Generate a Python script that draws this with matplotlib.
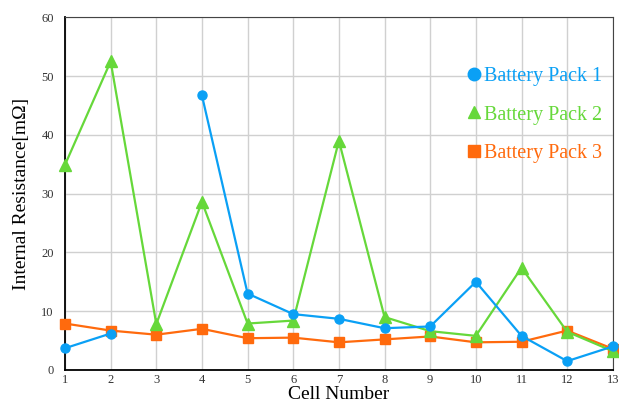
import numpy as np
import matplotlib.pyplot as plt
from matplotlib.lines import Line2D

plt.rcParams['font.family'] = ['Liberation Serif', 'DejaVu Serif']

cells = np.arange(1, 14)
pack1 = [3.7, 6.2, np.nan, 46.7, 13.0, 9.5, 8.7, 7.1, 7.4, 15.0, 5.8, 1.5, 4.0]
pack2 = [34.9, 52.5, 7.8, 28.6, 7.9, 8.4, 39.0, 9.0, 6.6, 5.8, 17.4, 6.5, 3.2]
pack3 = [7.9, 6.7, 6.0, 7.0, 5.4, 5.5, 4.7, 5.2, 5.7, 4.7, 4.8, 6.7, 3.6]
labels = ['Battery Pack 1', 'Battery Pack 2', 'Battery Pack 3']

c1, c2, c3 = '#0aa0f5', '#66d83a', '#ff6a0d'

fig = plt.figure(figsize=(6.19, 4.03), dpi=100)
ax = fig.add_axes([0.105, 0.082, 0.885, 0.875])

ax.plot(cells, pack3, color=c3, marker='s', ms=6.5, lw=1.6, zorder=3, clip_on=False)
ax.plot(cells, pack2, color=c2, marker='^', ms=8, lw=1.6, zorder=4, clip_on=False)
ax.plot(cells, pack1, color=c1, marker='o', ms=6.5, lw=1.6, zorder=5, clip_on=False)

ax.set_xlim(1, 13)
ax.set_ylim(0, 60)
ax.set_xticks(cells)
ax.set_yticks(np.arange(0, 61, 10))
ax.grid(True, color='#d0d0d0', lw=1)
ax.set_axisbelow(True)
ax.tick_params(length=0, labelsize=9, colors='#333333')
ax.tick_params(axis='x', pad=3)
ax.tick_params(axis='y', pad=8)
ax.set_xlabel('Cell Number', fontsize=14)
ax.xaxis.set_label_coords(0.5, -0.045)
ax.set_ylabel('Internal Resistance[m\u03a9]', fontsize=14, labelpad=8)
for s in ['top', 'right']:
    ax.spines[s].set_color('#444444')
ax.spines['left'].set_color('black')
ax.spines['left'].set_linewidth(1.3)
ax.spines['bottom'].set_color('black')
ax.spines['bottom'].set_linewidth(1.3)

handles = [Line2D([], [], color=c1, marker='o', ls='none', ms=9),
           Line2D([], [], color=c2, marker='^', ls='none', ms=9),
           Line2D([], [], color=c3, marker='s', ls='none', ms=9)]
leg = ax.legend(handles, labels, loc='upper right', bbox_to_anchor=(1.013, 0.91),
                frameon=False, fontsize=14.5, handlelength=0.6, handletextpad=0.2,
                labelspacing=0.95, labelcolor=[c1, c2, c3])

fig.savefig('out.png', dpi=100)
